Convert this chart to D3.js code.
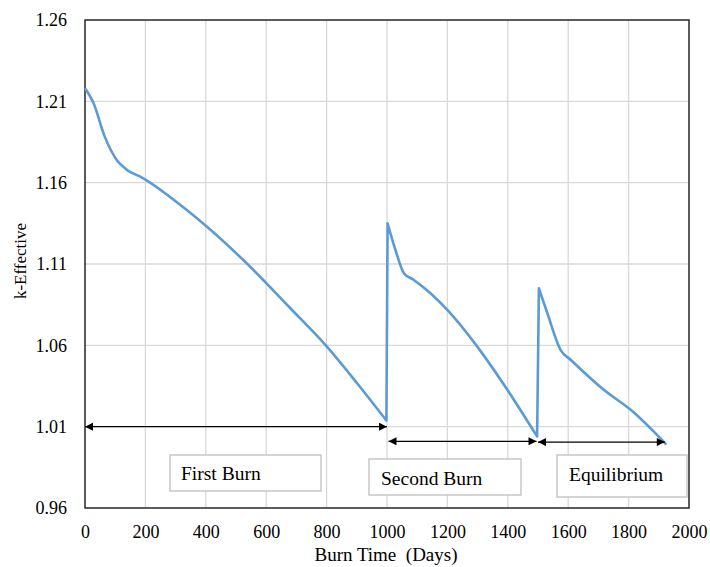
<!DOCTYPE html>
<html><head><meta charset="utf-8">
<script src="https://cdn.jsdelivr.net/npm/d3@7/dist/d3.min.js"></script>
<style>body{margin:0;background:#fff}svg{display:block}text{font-family:"Liberation Serif","Times New Roman",serif;fill:#000}</style>
</head><body>
<script>
const xTicks = [0,200,400,600,800,1000,1200,1400,1600,1800,2000];
const yTicks = [0.96,1.01,1.06,1.11,1.16,1.21,1.26];
const burn1Days = [0,28,66,105,138,190,337,404,547,680,801,901,998];
const burn1K    = [1.218,1.209,1.188,1.174,1.168,1.163,1.1432,1.1329,1.1083,1.0828,1.0592,1.0367,1.0138];
const burn2Days = [1002,1028,1056,1089,1144,1205,1299,1399,1497];
const burn2K    = [1.135,1.1186,1.1043,1.1002,1.092,1.0807,1.0592,1.0325,1.004];
const burn3Days = [1503,1531,1575,1609,1719,1808,1925];
const burn3K    = [1.095,1.0797,1.0571,1.051,1.0325,1.0202,0.999];
const phaseNames = ["First Burn","Second Burn","Equilibrium"];
const phaseStart = [0,1005,1500];
const phaseEnd   = [1000,1495,1920];
const phaseK     = [1.01,1.001,1.0005];

const W=710,H=567, m={l:85,r:21,t:20,b:59};
const svg=d3.select("body").append("svg").attr("width",W).attr("height",H);
const x=d3.scaleLinear().domain([0,2000]).range([m.l,W-m.r]);
const y=d3.scaleLinear().domain([0.96,1.26]).range([H-m.b,m.t]);

// grid
svg.append("g").selectAll("line").data(xTicks.slice(1,-1)).join("line")
 .attr("x1",d=>x(d)).attr("x2",d=>x(d)).attr("y1",y(0.96)).attr("y2",y(1.26))
 .attr("stroke","#d9d9d9").attr("stroke-width",1.3);
svg.append("g").selectAll("line").data(yTicks.slice(1,-1)).join("line")
 .attr("x1",x(0)).attr("x2",x(2000)).attr("y1",d=>y(d)).attr("y2",d=>y(d))
 .attr("stroke","#d9d9d9").attr("stroke-width",1.3);

// axes
const xa=svg.append("g").attr("transform",`translate(0,${y(0.96)})`)
 .call(d3.axisBottom(x).tickValues(xTicks).tickSize(0).tickPadding(17).tickFormat(d3.format("d")));
xa.select(".domain").remove();
xa.selectAll("text").attr("font-size",18).attr("font-family","Liberation Serif");
const ya=svg.append("g").attr("transform",`translate(${x(0)},0)`)
 .call(d3.axisLeft(y).tickValues(yTicks).tickSize(0).tickPadding(18).tickFormat(d3.format(".2f")));
ya.select(".domain").remove();
ya.selectAll("text").attr("font-size",18).attr("font-family","Liberation Serif");

// frame
svg.append("rect").attr("x",x(0)).attr("y",y(1.26)).attr("width",x(2000)-x(0)).attr("height",y(0.96)-y(1.26))
 .attr("fill","none").attr("stroke","#262626").attr("stroke-width",1.5);

// curve: each burn smoothed separately, joined by straight reload jumps
const segs=[[burn1Days,burn1K],[burn2Days,burn2K],[burn3Days,burn3K]]
 .map(([ds,ks])=>ds.map((d,i)=>[d,ks[i]]));
const line=d3.line().x(d=>x(d[0])).y(d=>y(d[1])).curve(d3.curveMonotoneX);
const dstr=segs.map((s,i)=>{const p=line(s);return i===0?p:"L"+p.slice(1);}).join("");
svg.append("path").attr("d",dstr).attr("fill","none").attr("stroke","#5b9bd5").attr("stroke-width",2.6).attr("stroke-linejoin","round");

// arrows
const defs=svg.append("defs");
defs.append("marker").attr("id","ah").attr("viewBox","0 0 10 10").attr("refX",10).attr("refY",5)
 .attr("markerWidth",10).attr("markerHeight",8).attr("markerUnits","userSpaceOnUse").attr("orient","auto-start-reverse")
 .append("path").attr("d","M0,0L10,5L0,10Z").attr("fill","#000");
phaseNames.forEach((n,i)=>{
  svg.append("line").attr("x1",x(phaseStart[i])).attr("x2",x(phaseEnd[i]))
   .attr("y1",y(phaseK[i])).attr("y2",y(phaseK[i])).attr("stroke","#000").attr("stroke-width",1.3)
   .attr("marker-start","url(#ah)").attr("marker-end","url(#ah)");
});

// label boxes
const boxes=[{x:170,y:455,w:151,h:36,tx:181,ty:480},{x:369,y:459,w:152,h:36,tx:381,ty:485},{x:557,y:455,w:130,h:42,tx:569,ty:481}];
boxes.forEach((b,i)=>{
  svg.append("rect").attr("x",b.x).attr("y",b.y).attr("width",b.w).attr("height",b.h)
   .attr("fill","#fff").attr("stroke","#bfbfbf").attr("stroke-width",1.3);
  svg.append("text").attr("x",b.tx).attr("y",b.ty).attr("font-size",19.5).text(phaseNames[i]);
});

// titles
svg.append("text").attr("x",386).attr("y",561).attr("text-anchor","middle").attr("font-size",19)
 .style("white-space","pre").text("Burn Time  (Days)");
svg.append("text").attr("transform","translate(26,261) rotate(-90)").attr("text-anchor","middle").attr("font-size",17)
 .text("k-Effective");
</script>
</body></html>
